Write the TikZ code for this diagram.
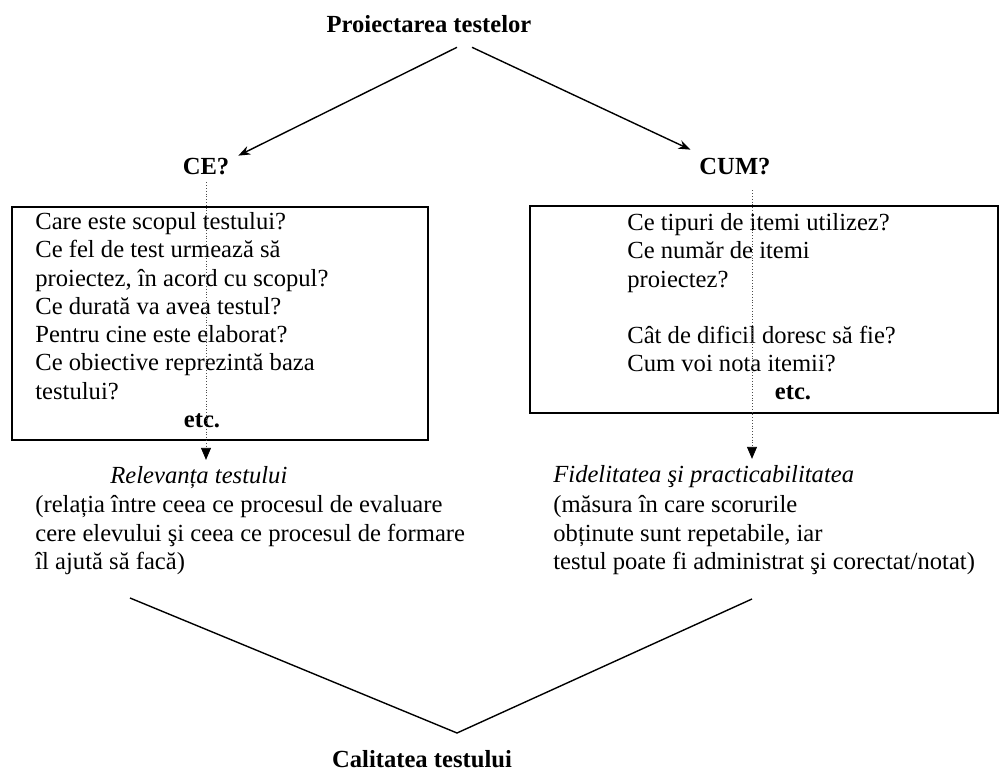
\documentclass[tikz,border=0pt]{standalone}
\usepackage{fontspec}
\setmainfont{Liberation Serif}
\usepackage{tikz}
\usetikzlibrary{arrows.meta,calc}

\begin{document}
\begin{tikzpicture}[x=0.5pt,y=-0.5pt,
    every node/.style={font=\fontsize{12.3}{14.15}\selectfont},
    titlu/.style={font=\fontsize{12.3}{14.15}\selectfont\bfseries,anchor=base},
    cursiv/.style={font=\fontsize{12.3}{14.15}\selectfont\itshape,anchor=base west,inner xsep=0pt},
    bloc/.style={anchor=north west,align=left,inner sep=0pt},
    sageata/.style={line width=0.7pt,-{Stealth[length=6pt,width=4.5pt]}},
    punctat/.style={line width=0.4pt,draw=black!70,densely dotted,-{Triangle[length=6pt,width=5pt,black]}},
    cadru/.style={line width=0.9pt}]
    \useasboundingbox (0,0) rectangle (1003,770);
    %%
    %% titluri
    \node[titlu] (proj) at (429,33) {Proiectarea testelor};
    \node[titlu] (ce) at (206,175) {CE?};
    \node[titlu] (cum) at (735,175) {CUM?};
    \draw[sageata] ([xshift=14pt,yshift=-3.5pt]proj.south) -- ([xshift=1pt,yshift=-2pt]ce.north east);
    \draw[sageata] ([xshift=21.5pt,yshift=-3.5pt]proj.south) -- ([xshift=-1pt,yshift=1pt]cum.north west);
    %%
    %% casete cu intrebari
    \draw[cadru] (12,207) rectangle (428,440);
    \draw[cadru] (530,206) rectangle (998,413);
    \node[bloc] (qce) at (35,209.2) {\strut Care este scopul testului?\\
        Ce fel de test urmează să\\
        proiectez, în acord cu scopul?\\
        Ce durată va avea testul?\\
        Pentru cine este elaborat?\\
        Ce obiective reprezintă baza\\
        testului?};
    \node[titlu] (etcce) at (202,428) {etc.};
    \node[bloc] (qcum) at (627,210.2) {\strut Ce tipuri de itemi utilizez?\\
        Ce număr de itemi\\
        proiectez?\\[14.15pt]
        Cât de dificil doresc să fie?\\
        Cum voi nota itemii?};
    \node[titlu] (etccum) at (793,400) {etc.};
    %%
    %% rezultate
    \node[cursiv] (rel) at (110,484) {Relevanța testului};
    \node[bloc] (relt) at (35,492.7) {\strut (relația între ceea ce procesul de evaluare\\
        cere elevului şi ceea ce procesul de formare\\
        îl ajută să facă)};
    \node[cursiv] (fid) at (553,483) {Fidelitatea şi practicabilitatea};
    \node[bloc] (fidt) at (553,492.7) {\strut (măsura în care scorurile\\
        obținute sunt repetabile, iar\\
        testul poate fi administrat şi corectat/notat)};
    \draw[punctat] (ce.south) -- (ce.south |- rel.north);
    \draw[punctat] ([xshift=8.5pt,yshift=-4pt]cum.south) -- ([xshift=8.5pt]cum.south |- fid.north);
    %%
    %% calitatea
    \node[titlu] (cal) at (422,767) {Calitatea testului};
    \coordinate (vst) at (130,598);
    \coordinate (vjos) at (457,733);
    \coordinate (vdr) at (752,599);
    \draw[line width=0.7pt] (vst) -- (vjos) -- (vdr);
\end{tikzpicture}
\end{document}
